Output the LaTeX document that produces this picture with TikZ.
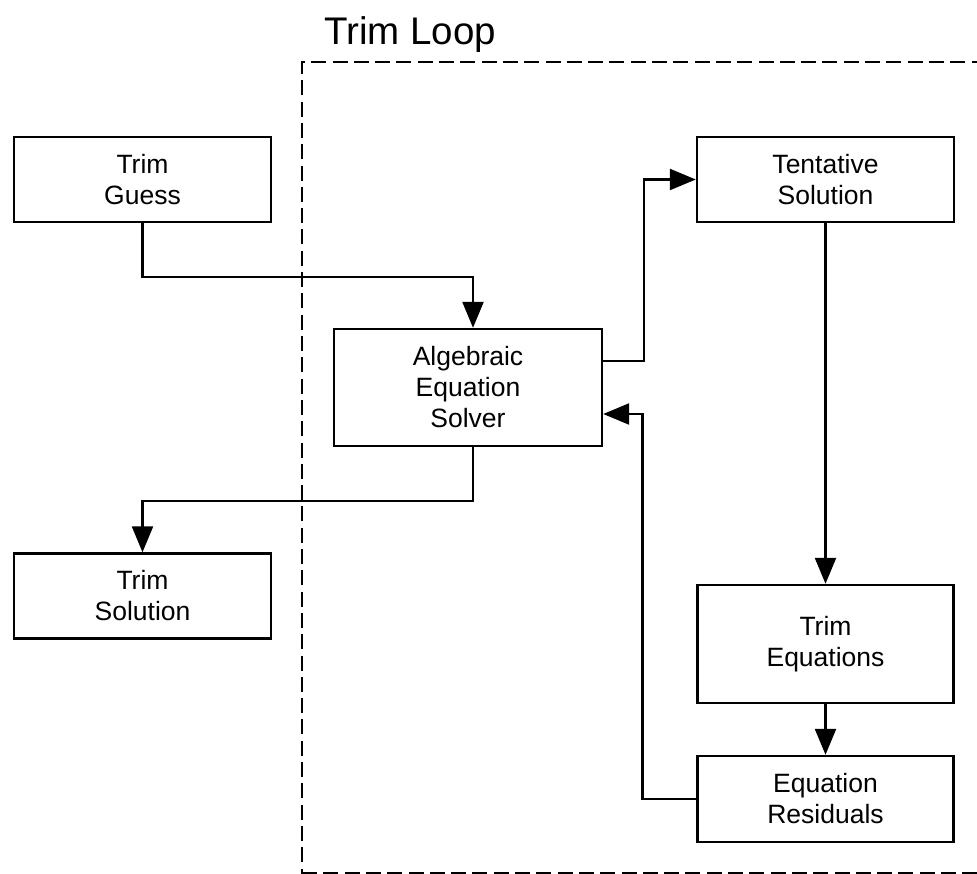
\documentclass[tikz,border=0pt]{standalone}
\usepackage{fontspec}
\setmainfont{Liberation Sans}
\usetikzlibrary{arrows.meta,calc}
\begin{document}
\begin{tikzpicture}[x=1pt,y=-1pt,
  blk/.style={draw,line width=2.4pt,align=center,inner sep=0pt,
    font=\fontsize{26.5}{31}\selectfont},
  flow/.style={line width=2.4pt,-{Triangle[length=26pt,width=21pt]}},
  frame/.style={line width=2.4pt,dash pattern=on 15pt off 6.3pt}]
\useasboundingbox (0,0) rectangle (977,874);

% loop frame and its title
\draw[frame] (302,990) -- (302,62) -- (1100,62);
\draw[frame] (302,873) -- (1100,873);
\node[anchor=base west,inner sep=0pt,font=\fontsize{38.5}{42}\selectfont] (title) at (324,45) {Trim Loop};

% blocks
\node[blk,minimum width=257pt,minimum height=85pt] (guess) at (142.5,179.5) {Trim\\Guess};
\node[blk,minimum width=257pt,minimum height=85pt] (tent) at (825.5,179.5) {Tentative\\Solution};
\node[blk,minimum width=268pt,minimum height=117pt] (aes) at (468,387.5) {Algebraic\\Equation\\Solver};
\node[blk,minimum width=257pt,minimum height=85pt] (tsol) at (142.5,596) {Trim\\Solution};
\node[blk,minimum width=256pt,minimum height=118pt] (teq) at (825.5,644) {Trim\\Equations};
\node[blk,minimum width=256pt,minimum height=86pt] (res) at (825.5,799) {Equation\\Residuals};

% connectors
\coordinate (aesin) at ($(aes.north)+(5,0)$);
\coordinate (aesout) at ($(aes.south)+(5,0)$);
\coordinate (aesr1) at ($(aes.east)+(0,-26.5)$);
\coordinate (aesr2) at ($(aes.east)+(0,26.5)$);
\draw[flow] (guess.south) -- ++(0,54) -| (aesin);
\draw[flow] (aesr1) -- ++(41,0) |- (tent.west);
\draw[flow] (tent.south) -- (teq.north);
\draw[flow] (teq.south) -- (res.north);
\draw[flow] (res.west) -- ++(-54,0) |- (aesr2);
\draw[flow] (aesout) -- ++(0,53.5) -| (tsol.north);
\end{tikzpicture}
\end{document}
